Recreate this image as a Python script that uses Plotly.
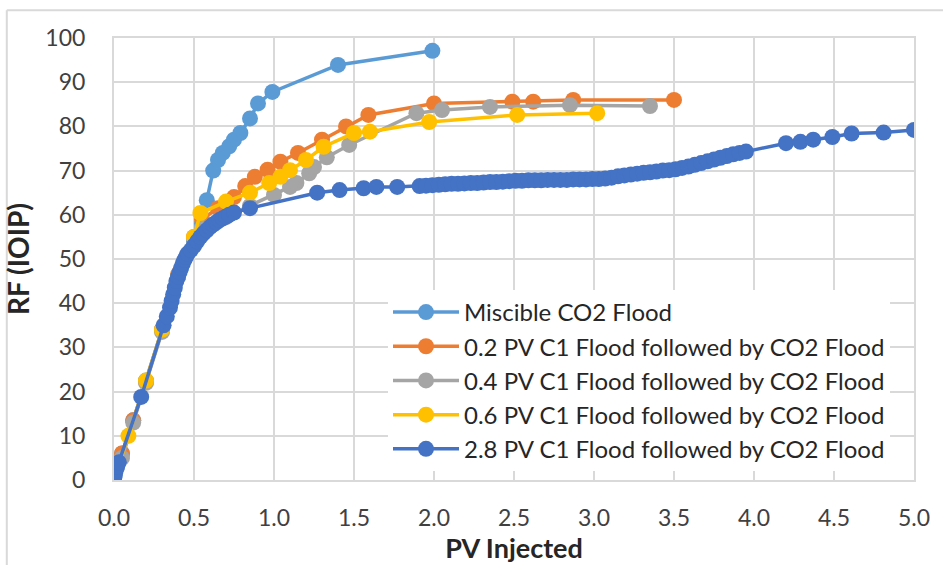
import plotly.graph_objects as go

# ---------------- data ----------------
mis_x = [0, 0.05, 0.12, 0.2, 0.3, 0.4, 0.5, 0.55, 0.58, 0.62, 0.65, 0.68, 0.72, 0.75, 0.79, 0.85, 0.90, 0.99, 1.40, 1.99]
mis_y = [0, 6, 13.5, 22.5, 34, 46, 54, 58, 63.3, 70, 72.4, 74, 75.5, 77, 78.5, 81.8, 85.2, 87.8, 93.9, 97.1]

c02_x = [0, 0.05, 0.12, 0.2, 0.3, 0.4, 0.5, 0.55, 0.65, 0.75, 0.82, 0.88, 0.96, 1.04, 1.15, 1.3, 1.45, 1.59, 2.0, 2.49, 2.62, 2.87, 3.5]
c02_y = [0, 6, 13.5, 22.3, 34, 46.5, 55, 59, 61.5, 64, 66.5, 68.6, 70.2, 72, 74, 77, 80, 82.6, 85.2, 85.6, 85.6, 86, 86]

c04_x = [0, 0.05, 0.12, 0.2, 0.3, 0.4, 0.5, 0.55, 0.7, 0.85, 1.0, 1.1, 1.14, 1.22, 1.25, 1.33, 1.47, 1.89, 2.05, 2.35, 2.85, 3.35]
c04_y = [0, 5, 13, 22, 33.5, 46, 53, 57, 59.5, 62, 64.5, 66.3, 67.2, 69.4, 70.8, 73, 75.8, 83, 83.7, 84.4, 84.8, 84.6]

c06_x = [0, 0.09, 0.2, 0.3, 0.4, 0.5, 0.54, 0.7, 0.85, 0.97, 1.04, 1.1, 1.2, 1.31, 1.5, 1.6, 1.97, 2.52, 3.02]
c06_y = [0, 10, 22.5, 34, 46, 55, 60.4, 63, 65, 67.2, 68.6, 70.1, 72.4, 75.4, 78.5, 78.8, 81, 82.6, 83]

c28_x = [0, 0.005, 0.01, 0.02, 0.03, 0.17, 0.31, 0.33, 0.35, 0.36, 0.37, 0.38, 0.39, 0.40, 0.41, 0.42, 0.43, 0.44,
         0.45, 0.46, 0.48, 0.50, 0.52, 0.54, 0.56, 0.58, 0.60, 0.62, 0.64, 0.66, 0.68, 0.70, 0.72, 0.75, 0.85,
         1.27, 1.41, 1.56, 1.64, 1.77, 1.91, 1.95, 1.99, 2.03, 2.07, 2.11, 2.15, 2.19, 2.23, 2.27, 2.31, 2.35,
         2.39, 2.43, 2.47, 2.51, 2.55, 2.59, 2.63, 2.67, 2.71, 2.75, 2.79, 2.83, 2.87, 2.91, 2.95, 2.99, 3.03,
         3.07, 3.11, 3.15, 3.19, 3.23, 3.27, 3.31, 3.35, 3.39, 3.43, 3.47, 3.51, 3.55, 3.59, 3.63, 3.67, 3.71,
         3.75, 3.79, 3.83, 3.87, 3.91, 3.95, 4.2, 4.29, 4.37, 4.49, 4.61, 4.81, 5.0]
c28_y = [0, 1, 2, 3, 4, 18.8, 35, 37, 39, 40.5, 42, 43.5, 45, 46, 47, 48, 49, 49.8,
         50.5, 51.2, 52, 53, 54, 55, 55.8, 56.5, 57.2, 57.8, 58.3, 58.8, 59.2, 59.6, 60, 60.5, 61.5,
         65.0, 65.6, 66.0, 66.3, 66.3, 66.5, 66.6, 66.7, 66.8, 66.9, 67.0, 67.0, 67.1, 67.2, 67.2, 67.3, 67.4,
         67.4, 67.5, 67.6, 67.7, 67.7, 67.8, 67.8, 67.8, 67.9, 67.9, 67.9, 67.9, 68.0, 68.0, 68.0, 68.1, 68.1,
         68.2, 68.4, 68.7, 68.9, 69.1, 69.3, 69.5, 69.6, 69.8, 70.0, 70.1, 70.3, 70.6, 70.9, 71.3, 71.7, 72.1,
         72.5, 72.9, 73.3, 73.7, 74.0, 74.3, 76.2, 76.5, 77.0, 77.6, 78.4, 78.6, 79.2]

series_names = [
    "Miscible CO2 Flood",
    "0.2 PV C1 Flood followed by CO2 Flood",
    "0.4 PV C1 Flood followed by CO2 Flood",
    "0.6 PV C1 Flood followed by CO2 Flood",
    "2.8 PV C1 Flood followed by CO2 Flood",
]
series_colors = ["#5B9BD5", "#ED7D31", "#A5A5A5", "#FFC000", "#4472C4"]
x_ticks = [0, 0.5, 1.0, 1.5, 2.0, 2.5, 3.0, 3.5, 4.0, 4.5, 5.0]
y_ticks = [0, 10, 20, 30, 40, 50, 60, 70, 80, 90, 100]

# ---------------- figure ----------------
fig = go.Figure()
data = [(mis_x, mis_y), (c02_x, c02_y), (c04_x, c04_y), (c06_x, c06_y), (c28_x, c28_y)]
for (xs, ys), name, col in zip(data, series_names, series_colors):
    fig.add_trace(go.Scatter(
        x=xs, y=ys, name=name, mode="lines+markers",
        line=dict(color=col, width=3.5),
        marker=dict(color=col, size=16),
        cliponaxis=True,
    ))

grid = "#D9D9D9"
fam = "Lato, Open Sans, sans-serif"
tickfont = dict(family=fam, size=23, color="#404040")
fig.update_layout(
    width=943, height=565,
    margin=dict(l=114, r=29, t=38, b=85),
    paper_bgcolor="white", plot_bgcolor="white",
    showlegend=True,
    legend=dict(
        x=0.3425, y=0.43, xanchor="left", yanchor="top",
        bgcolor="white", borderwidth=0,
        font=dict(family=fam, size=24, color="#262626"),
        itemwidth=66, tracegroupgap=0,
    ),
    xaxis=dict(
        range=[0, 5], tickvals=x_ticks, tickformat=".1f",
        showgrid=True, gridcolor=grid, gridwidth=2,
        showline=True, linecolor=grid, linewidth=2, mirror=True,
        zeroline=False, tickfont=tickfont, ticks="", ticklabelstandoff=16,
        title=dict(text="<b>PV Injected</b>", font=dict(family=fam, size=27, color="#262626"), standoff=4),
    ),
    yaxis=dict(
        range=[0, 100], tickvals=y_ticks,
        showgrid=True, gridcolor=grid, gridwidth=2,
        showline=True, linecolor=grid, linewidth=2, mirror=True,
        zeroline=False, tickfont=tickfont, ticks="", ticklabelstandoff=22,
        title=dict(text="<b>RF (IOIP)</b>", font=dict(family=fam, size=28, color="#262626"), standoff=8),
    ),
    shapes=[
        dict(type="line", xref="paper", yref="paper", x0=-0.134, x1=1.1, y0=1.063, y1=1.063,
             line=dict(color="#D9D9D9", width=2)),
        dict(type="line", xref="paper", yref="paper", x0=-0.134, x1=-0.134, y0=1.063, y1=-0.2,
             line=dict(color="#D9D9D9", width=2)),
    ],
)

fig.write_html("out.html")
